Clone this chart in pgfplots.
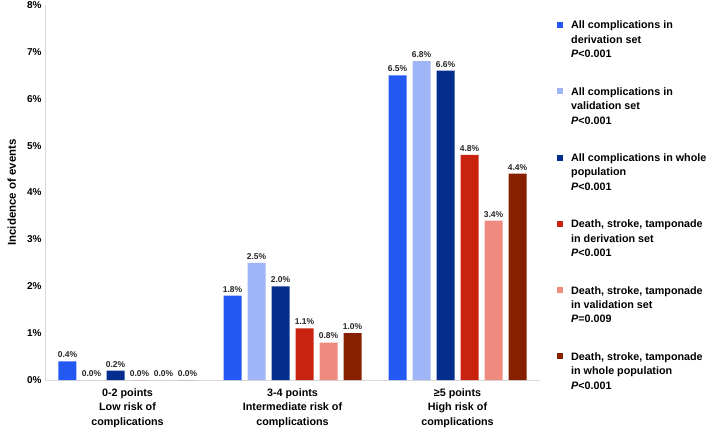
\documentclass[border=0pt]{standalone}
\usepackage{fontspec}
\setmainfont{Liberation Sans}
\usepackage{pgfplots}
\pgfplotsset{compat=1.18}
\definecolor{cA}{RGB}{36,88,243}
\definecolor{cB}{RGB}{160,180,248}
\definecolor{cC}{RGB}{4,46,142}
\definecolor{cD}{RGB}{201,35,15}
\definecolor{cE}{RGB}{238,139,126}
\definecolor{cF}{RGB}{135,32,0}
\begin{document}
\begin{tikzpicture}
\useasboundingbox (-45bp,-48bp) rectangle (664bp,380bp);
\begin{axis}[
  scale only axis, width=495bp, height=375bp,
  xmin=-0.5, xmax=2.5, ymin=0, ymax=8,
  ybar, bar width=18bp,
  /pgf/number format/assume math mode=true,
  xtick={0,1,2},
  xticklabels={{0-2 points\\Low risk of\\complications},{3-4 points\\Intermediate risk of\\complications},{≥5 points\\High risk of\\complications}},
  xticklabel style={align=center, font=\bfseries\fontsize{10.8}{14.5}\selectfont, yshift=-5bp},
  ytick={0,1,2,3,4,5,6,7,8},
  yticklabels={0\%,1\%,2\%,3\%,4\%,5\%,6\%,7\%,8\%},
  yticklabel style={font=\bfseries\fontsize{10}{12}\selectfont},
  axis x line*=bottom, axis y line*=left,
  axis line style={draw=black!15, -},
  major tick length=0pt,
  ylabel={Incidence of events},
  ylabel style={at={(axis description cs:-0.067,0.5)}, anchor=center, font=\bfseries\fontsize{11.5}{13}\selectfont},
  nodes near coords={\pgfmathprintnumber[fixed,fixed zerofill,precision=1]{\pgfplotspointmeta}\%},
  every node near coord/.append style={font=\bfseries\fontsize{8.5}{10}\selectfont, black!85},
  legend image code/.code={\path[#1,draw=none] (0bp,1bp) rectangle (6bp,7bp);},
  legend style={at={(1,1)}, anchor=north west, xshift=17bp, yshift=-14bp, draw=none, fill=none, inner sep=0pt, row sep=53bp, column sep=6bp, cells={anchor=base west, inner sep=0pt}, font=\bfseries\fontsize{10.8}{14.5}\selectfont},
  clip=false,
]
\addplot[fill=cA, draw=none, bar shift=-60bp] coordinates {(0,0.4) (1,1.8) (2,6.5)};
\addlegendentry{\parbox[t]{140bp}{All complications in\\derivation set\\\textit{P}<0.001}}
\addplot[fill=cB, draw=none, bar shift=-36bp] coordinates {(0,0.0) (1,2.5) (2,6.8)};
\addlegendentry{\parbox[t]{140bp}{All complications in\\validation set\\\textit{P}<0.001}}
\addplot[fill=cC, draw=none, bar shift=-12bp] coordinates {(0,0.2) (1,2.0) (2,6.6)};
\addlegendentry{\parbox[t]{140bp}{All complications in whole\\population\\\textit{P}<0.001}}
\addplot[fill=cD, draw=none, bar shift=12bp] coordinates {(0,0.0) (1,1.1) (2,4.8)};
\addlegendentry{\parbox[t]{140bp}{Death, stroke, tamponade\\in derivation set\\\textit{P}<0.001}}
\addplot[fill=cE, draw=none, bar shift=36bp] coordinates {(0,0.0) (1,0.8) (2,3.4)};
\addlegendentry{\parbox[t]{140bp}{Death, stroke, tamponade\\in validation set\\\textit{P}=0.009}}
\addplot[fill=cF, draw=none, bar shift=60bp] coordinates {(0,0.0) (1,1.0) (2,4.4)};
\addlegendentry{\parbox[t]{140bp}{Death, stroke, tamponade\\in whole population\\\textit{P}<0.001}}
\end{axis}
\end{tikzpicture}
\end{document}
